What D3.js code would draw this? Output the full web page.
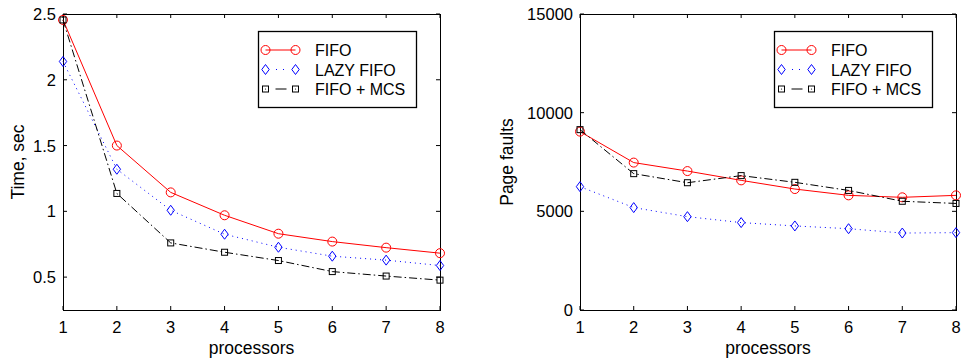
<!DOCTYPE html>
<html>
<head>
<meta charset="utf-8">
<script src="https://cdn.jsdelivr.net/npm/d3@7"></script>
<style>
  body { margin: 0; background: #fff; }
  text { font-family: "Liberation Sans", Arial, sans-serif; }
</style>
</head>
<body>
<div id="chart"></div>
<script>
"use strict";

var processors = [1, 2, 3, 4, 5, 6, 7, 8];
var seriesNames = ["FIFO", "LAZY FIFO", "FIFO + MCS"];

// left panel: time in seconds
var timeFifo = [2.455, 1.50, 1.144, 0.97, 0.83, 0.77, 0.724, 0.682];
var timeLazy = [2.139, 1.32, 1.008, 0.826, 0.727, 0.659, 0.629, 0.588];
var timeMcs  = [2.455, 1.136, 0.76, 0.689, 0.626, 0.542, 0.508, 0.477];
var timeTicks = [0.5, 1, 1.5, 2, 2.5];

// right panel: page faults
var faultsFifo = [9040, 7470, 7040, 6570, 6130, 5810, 5710, 5810];
var faultsLazy = [6250, 5190, 4730, 4430, 4260, 4120, 3900, 3920];
var faultsMcs  = [9140, 6910, 6450, 6810, 6470, 6060, 5510, 5400];
var faultTicks = [0, 5000, 10000, 15000];

var width = 961, height = 362;

var svg = d3.select("#chart").append("svg")
  .attr("width", width)
  .attr("height", height);

var styles = [
  { color: "#ff0000", dash: null, legendDash: null, marker: "circle" },
  { color: "#0000ff", dash: "1,4", legendDash: "0,10.5,1,6,1,100", marker: "diamond" },
  { color: "#000000", dash: "8,3,1.5,3", legendDash: "0,10,11,100", marker: "square" }
];

function drawMarker(g, type, color, cx, cy) {
  if (type == "circle") {
    g.append("circle").attr("cx", cx).attr("cy", cy).attr("r", 4.5)
      .attr("fill", "none").attr("stroke", color).attr("stroke-width", 1);
  } else if (type == "diamond") {
    g.append("path")
      .attr("d", "M" + cx + "," + (cy - 5) + "L" + (cx + 3.7) + "," + cy + "L" + cx + "," + (cy + 5) + "L" + (cx - 3.7) + "," + cy + "Z")
      .attr("fill", "none").attr("stroke", color).attr("stroke-width", 1);
  } else {
    g.append("rect").attr("x", cx - 3).attr("y", cy - 3).attr("width", 6).attr("height", 6)
      .attr("fill", "none").attr("stroke", color).attr("stroke-width", 1);
  }
}

function drawPanel(p) {
  var x = d3.scaleLinear().domain([1, 8]).range([p.left, p.right]);
  var y = d3.scaleLinear().domain(p.yDomain).range([p.bottom, p.top]);
  var g = svg.append("g");

  // inside ticks on all four sides, like matlab
  var tl = 4;
  p.yTicks.forEach(function(t) {
    g.append("line").attr("x1", p.left).attr("x2", p.left + tl).attr("y1", y(t)).attr("y2", y(t)).attr("stroke", "#000");
    g.append("line").attr("x1", p.right).attr("x2", p.right - tl).attr("y1", y(t)).attr("y2", y(t)).attr("stroke", "#000");
    g.append("text").attr("x", p.left - 7).attr("y", y(t) + 6)
      .attr("text-anchor", "end").attr("font-size", 16.5).text(t);
  });
  processors.forEach(function(t) {
    g.append("line").attr("x1", x(t)).attr("x2", x(t)).attr("y1", p.bottom).attr("y2", p.bottom - tl).attr("stroke", "#000");
    g.append("line").attr("x1", x(t)).attr("x2", x(t)).attr("y1", p.top).attr("y2", p.top + tl).attr("stroke", "#000");
    g.append("text").attr("x", x(t)).attr("y", p.bottom + 23)
      .attr("text-anchor", "middle").attr("font-size", 16.5).text(t);
  });

  g.append("rect")
    .attr("x", p.left + 0.5).attr("y", p.top + 0.5)
    .attr("width", p.right - p.left).attr("height", p.bottom - p.top)
    .attr("fill", "none").attr("stroke", "#000").attr("stroke-width", 1);

  g.append("text")
    .attr("x", (p.left + p.right) / 2).attr("y", p.bottom + 44)
    .attr("text-anchor", "middle").attr("font-size", 17.5).text("processors");

  g.append("text")
    .attr("transform", "translate(" + p.yLabelX + "," + ((p.top + p.bottom) / 2) + ") rotate(-90)")
    .attr("text-anchor", "middle").attr("font-size", 17.5).text(p.yLabel);

  var line = d3.line()
    .x(function(d, i) { return x(processors[i]); })
    .y(function(d) { return y(d); });

  p.series.forEach(function(s, k) {
    var st = styles[k];
    g.append("path").datum(s)
      .attr("d", line)
      .attr("fill", "none")
      .attr("stroke", st.color)
      .attr("stroke-width", 1)
      .attr("stroke-dasharray", st.dash);
    s.forEach(function(v, i) {
      drawMarker(g, st.marker, st.color, x(processors[i]), y(v));
    });
  });

  // legend
  var lx = p.legendX, ly = 31;
  g.append("rect").attr("x", lx + 0.5).attr("y", ly + 0.5)
    .attr("width", 158).attr("height", 76)
    .attr("fill", "#fff").attr("stroke", "#000").attr("stroke-width", 1.3);
  seriesNames.forEach(function(name, k) {
    var st = styles[k];
    var ry = ly + 19 + k * 19.5;
    var x1 = lx + 7.5, x2 = lx + 37.5;
    g.append("line").attr("x1", x1).attr("x2", x2).attr("y1", ry).attr("y2", ry)
      .attr("stroke", st.color).attr("stroke-width", 1)
      .attr("stroke-dasharray", st.legendDash);
    drawMarker(g, st.marker, st.color, x1, ry);
    drawMarker(g, st.marker, st.color, x2, ry);
    if (k == 2) {
      g.append("circle").attr("cx", x1).attr("cy", ry).attr("r", 0.6).attr("fill", "#000");
      g.append("circle").attr("cx", x2).attr("cy", ry).attr("r", 0.6).attr("fill", "#000");
    }
    g.append("text").attr("x", lx + 57).attr("y", ry + 6)
      .attr("font-size", 16).text(name);
  });
}

drawPanel({
  left: 63, right: 440, top: 14, bottom: 310,
  yDomain: [0.25, 2.5], yTicks: timeTicks,
  yLabel: "Time, sec", yLabelX: 24,
  legendX: 258,
  series: [timeFifo, timeLazy, timeMcs]
});

drawPanel({
  left: 580, right: 956, top: 14, bottom: 310,
  yDomain: [0, 15000], yTicks: faultTicks,
  yLabel: "Page faults", yLabelX: 513,
  legendX: 774,
  series: [faultsFifo, faultsLazy, faultsMcs]
});
</script>
</body>
</html>
